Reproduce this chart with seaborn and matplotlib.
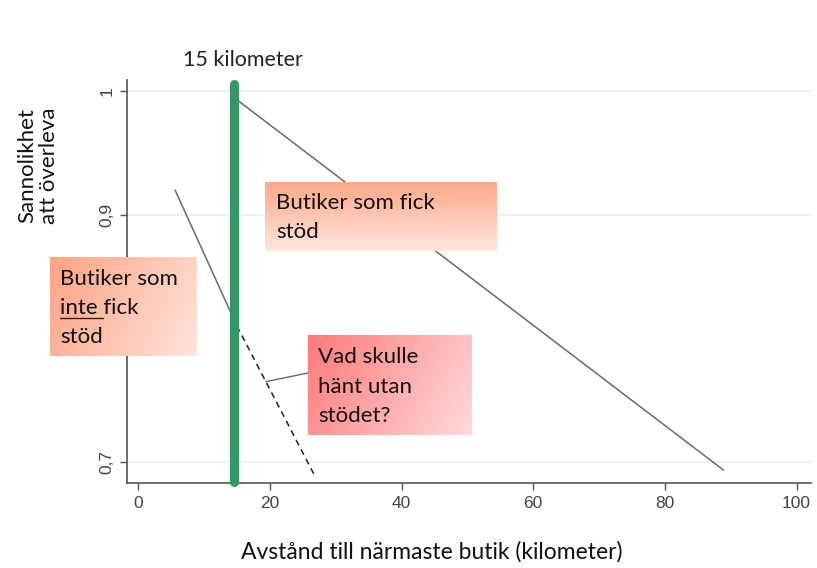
import numpy as np
import pandas as pd
import matplotlib
matplotlib.use("Agg")
import matplotlib.pyplot as plt
import seaborn as sns
from matplotlib.colors import LinearSegmentedColormap
from matplotlib.lines import Line2D

# ---- data ----
stod_x = [15.0, 88.9]
stod_y = [0.993, 0.6935]
inte_x = [5.6, 15.0]
inte_y = [0.920, 0.810]
utan_x = [15.0, 27.0]
utan_y = [0.810, 0.687]
connector_x = [19.4, 25.8]
connector_y = [0.765, 0.772]
green_x = [14.5, 14.5]
green_y = [0.684, 1.006]
x_ticks = [0, 20, 40, 60, 80, 100]
y_ticks = [0.7, 0.9, 1.0]
y_tick_labels = ["0,7", "0,9", "1"]

W, H = 817, 568
sns.set_theme(style="white")
plt.rcParams["font.family"] = ["Liberation Sans", "DejaVu Sans"]
CAL = ["Lato", "DejaVu Sans"]

fig = plt.figure(figsize=(W / 100, H / 100), dpi=100)
ax = fig.add_axes([127 / W, 1 - 483 / H, (811 - 127) / W, (483 - 80) / H])

df_stod = pd.DataFrame({"x": stod_x, "y": stod_y})
df_inte = pd.DataFrame({"x": inte_x, "y": inte_y})
df_utan = pd.DataFrame({"x": utan_x, "y": utan_y})
df_conn = pd.DataFrame({"x": connector_x, "y": connector_y})

for yt in y_ticks:
    ax.axhline(yt, color="#eaf1f1", lw=1.2, zorder=0)

sns.lineplot(data=df_stod, x="x", y="y", ax=ax, color="#6a6a6a", lw=1.1, estimator=None, sort=False)
sns.lineplot(data=df_inte, x="x", y="y", ax=ax, color="#6a6a6a", lw=1.1, estimator=None, sort=False)
sns.lineplot(data=df_utan, x="x", y="y", ax=ax, color="#222222", lw=1.1, linestyle=(0, (4, 3)),
             estimator=None, sort=False)
sns.lineplot(data=df_conn, x="x", y="y", ax=ax, color="#6a6a6a", lw=1.0, estimator=None, sort=False)
ax.plot(green_x, green_y, color="#2f9863", lw=6.5, solid_capstyle="round", zorder=5, clip_on=False)

ax.set_xlim(-1.7, 102.2)
ax.set_ylim(0.683, 1.009)
ax.set_xticks(x_ticks)
ax.set_xticklabels([str(v) for v in x_ticks])
ax.set_yticks(y_ticks)
ax.set_yticklabels(y_tick_labels, rotation=90, va="center")
ax.tick_params(axis="both", which="major", length=5, width=1, color="#555555",
               labelsize=12.5, labelcolor="#444444", bottom=True, left=True, pad=4)
for lab in ax.get_xticklabels() + ax.get_yticklabels():
    lab.set_family(["Liberation Sans", "DejaVu Sans"])
ax.set_xlabel("")
ax.set_ylabel("")
for s in ["top", "right"]:
    ax.spines[s].set_visible(False)
for s in ["left", "bottom"]:
    ax.spines[s].set_color("#555555")
    ax.spines[s].set_linewidth(1.2)

# ---- labels ----
fig.text(243 / W, 1 - 60 / H, "15 kilometer", ha="center", va="center", fontsize=15.5,
         family=CAL, color="#222222")
fig.text(432 / W, 1 - 552 / H, "Avstånd till närmaste butik (kilometer)", ha="center", va="center",
         fontsize=16.5, family=CAL, color="#111111")
fig.text(38 / W, 1 - 166 / H, "Sannolikhet\natt överleva", ha="center", va="center", rotation=90,
         fontsize=16, family=CAL, color="#111111", linespacing=1.1)


def grad_box(x0, y0, x1, y1, c0, c1, mode):
    bax = fig.add_axes([x0 / W, 1 - y1 / H, (x1 - x0) / W, (y1 - y0) / H])
    n = 100
    u = np.linspace(0, 1, n)
    if mode == "v":
        g = np.tile(u[:, None], (1, n))
    elif mode == "h":
        g = np.tile(u[None, :], (n, 1))
    else:
        g = 0.75 * u[None, :] + 0.25 * u[:, None]
    cmap = LinearSegmentedColormap.from_list("g", [c0, c1])
    bax.imshow(g, cmap=cmap, aspect="auto", origin="upper", extent=(0, 1, 1, 0), vmin=0, vmax=1)
    bax.set_axis_off()
    return bax


grad_box(265, 182, 496, 251, "#ffa888", "#ffe6de", "v")
grad_box(50, 257, 197, 356, "#ffa383", "#ffe4dc", "d")
grad_box(308, 335, 472, 435, "#ff7a7a", "#ffdada", "d")

TF = 16


def line_text(x, y, s):
    return fig.text(x / W, 1 - y / H, s, ha="left", va="baseline", fontsize=TF, family=CAL,
                    color="#111111", zorder=10)


line_text(276, 209, "Butiker som fick")
line_text(276, 238, "stöd")

line_text(60, 285, "Butiker som")
line_text(60, 314, "inte fick")
line_text(60, 343, "stöd")
probe = fig.text(60 / W, 1 - 314 / H, "inte ", ha="left", va="baseline", fontsize=TF, family=CAL, alpha=0)
fig.canvas.draw()
bb = probe.get_window_extent()
fig.add_artist(Line2D([60 / W, bb.x1 / W], [1 - 318 / H, 1 - 318 / H], color="#222222", lw=1.0,
                      transform=fig.transFigure, zorder=11))

line_text(318, 363, "Vad skulle")
line_text(318, 393, "hänt utan")
line_text(318, 422, "stödet?")

fig.savefig("out.png", dpi=100)
